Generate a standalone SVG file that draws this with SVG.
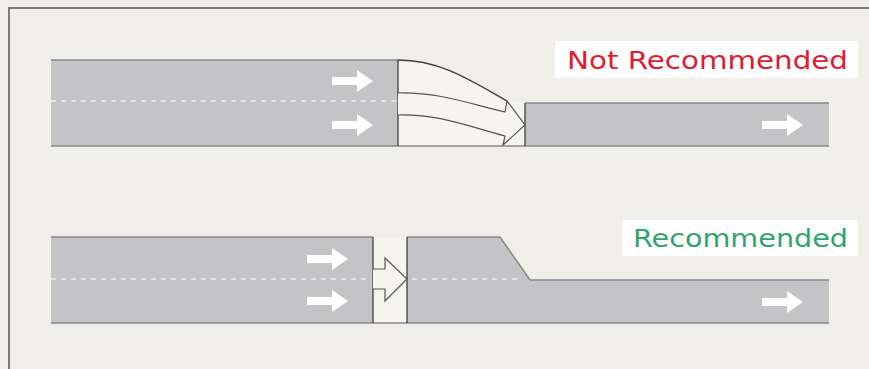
<svg xmlns="http://www.w3.org/2000/svg" width="869" height="369" viewBox="0 0 869 369">
<style>
.road{fill:#c4c3c5}
.band{fill:#f6f4f0}
.edge{stroke:#8a898b;stroke-width:1.6;fill:none}
.div{stroke:#3f3f3f;stroke-width:1.3;fill:none}
.dash{stroke:#ffffff;stroke-opacity:0.55;stroke-width:2;stroke-dasharray:5 5;fill:none}
.warrow{fill:#ffffff}
.outl{fill:#f6f4f0;stroke:#555;stroke-width:1.2;stroke-linejoin:miter}
.lbl{font-family:"DejaVu Sans","Liberation Sans",sans-serif;font-size:24px}
</style>
<defs>
<path id="wa" d="M0,-4 L25,-4 L25,-11 L41,0 L25,11 L25,4 L0,4 Z"/>
</defs>
<rect x="0" y="0" width="869" height="369" fill="#f0eee9"/>
<path d="M9,369 L9,8 L869,8" stroke="#7b7b7b" stroke-width="2" fill="none"/>

<g id="top-road">
<rect class="road" x="51" y="60" width="347" height="86"/>
<path class="band" d="M398,60 C440,60 470,80 507,101 L525,103 L525,146 L398,146 Z"/>
<rect class="road" x="525" y="103" width="304" height="43"/>
<line class="dash" x1="51" y1="101" x2="396" y2="101"/>
<path class="edge" d="M51,60 L398,60"/>
<path class="edge" d="M525,103 L829,103"/>
<path class="edge" d="M51,146 L829,146"/>
<path class="div" d="M398,60 C440,60 470,80 507,101"/>
<path class="div" d="M398,60 L398,146 M525,103 L525,146"/>
<path class="outl" d="M398,93 C440,92 470,104 505,112 L507,101 L525,125 L503,145 L505,136 C470,127 440,114 398,115"/>
<use href="#wa" class="warrow" x="332" y="81"/>
<use href="#wa" class="warrow" x="332" y="125"/>
<use href="#wa" class="warrow" x="762" y="125"/>
</g>

<g id="label-not">
<rect x="555" y="41" width="303" height="37" fill="#ffffff"/>
<text class="lbl" x="567" y="69" fill="#e31b2f" textLength="281" lengthAdjust="spacingAndGlyphs">Not Recommended</text>
</g>

<g id="bottom-road">
<rect class="road" x="51" y="237" width="322" height="86"/>
<rect class="band" x="373" y="237" width="34" height="86"/>
<path class="road" d="M407,237 L500,237 L530,280 L829,280 L829,323 L407,323 Z"/>
<line class="dash" x1="51" y1="279" x2="371" y2="279"/>
<line class="dash" x1="412" y1="279" x2="520" y2="279"/>
<path class="edge" d="M51,237 L373,237 M407,237 L500,237 L530,280 L829,280"/>
<path class="edge" d="M51,323 L829,323"/>
<path class="div" d="M373,237 L373,323 M407,237 L407,323"/>
<path class="outl" d="M373,269 L385,269 L385,258 L407,279 L385,301 L385,289 L373,289"/>
<use href="#wa" class="warrow" x="307" y="259"/>
<use href="#wa" class="warrow" x="307" y="301"/>
<use href="#wa" class="warrow" x="762" y="302"/>
</g>

<g id="label-rec">
<rect x="622" y="220" width="236" height="36" fill="#ffffff"/>
<text class="lbl" x="633" y="247" fill="#2fa56a" textLength="215" lengthAdjust="spacingAndGlyphs">Recommended</text>
</g>
</svg>
